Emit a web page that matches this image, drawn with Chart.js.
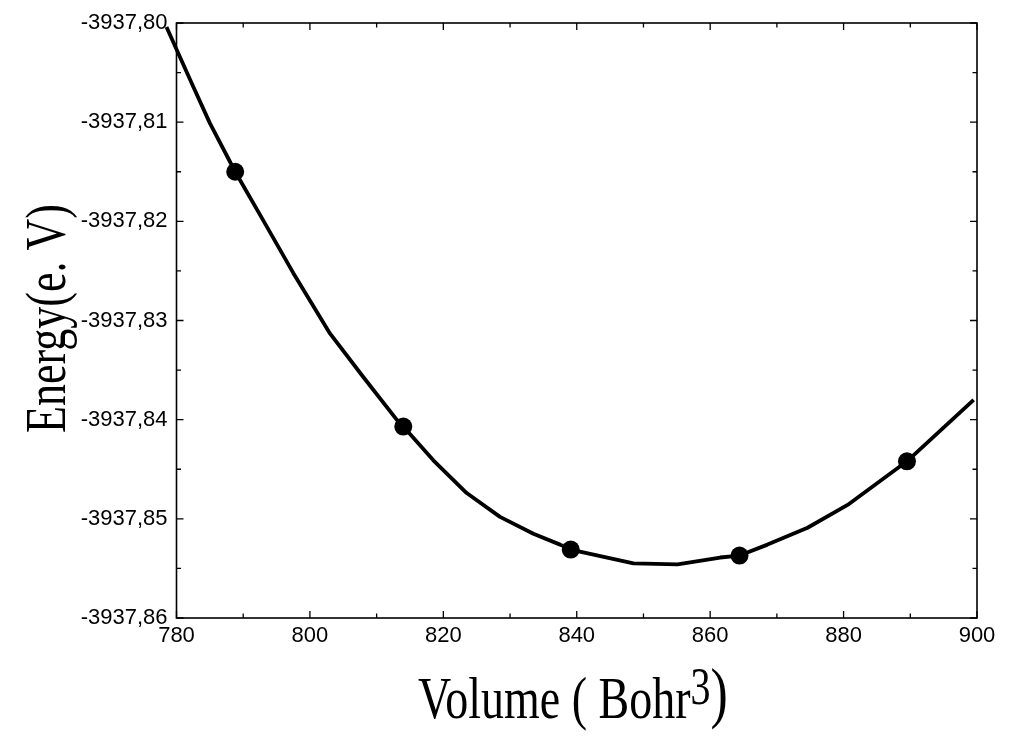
<!DOCTYPE html>
<html>
<head>
<meta charset="utf-8">
<script src="https://cdn.jsdelivr.net/npm/chart.js@4.4.1/dist/chart.umd.min.js"></script>
<style>
  html, body { margin: 0; padding: 0; background: #fff; }
  #wrap { width: 1010px; height: 756px; }
</style>
</head>
<body>
<div id="wrap"><canvas id="evChart"></canvas></div>
<script>
// tick labels
const xTicks = [780, 800, 820, 840, 860, 880, 900];
const yTicks = [-3937.80, -3937.81, -3937.82, -3937.83, -3937.84, -3937.85, -3937.86];

// computed points (Bohr^3, eV)
const volume = [788.8, 814.0, 839.1, 864.4, 889.5];
const energy = [-3937.8150, -3937.8407, -3937.8531, -3937.8537, -3937.8442];

// fitted curve
const fitVolume = [778.5, 782.5, 785.0, 788.8, 793.0, 797.5, 803.0, 808.0, 813.0, 814.0,
                   818.5, 823.5, 828.5, 833.5, 837.5, 839.1, 848.5, 855.1, 861.5, 864.4,
                   868.6, 874.6, 880.6, 889.5, 899.5];
const fitEnergy = [-3937.8004, -3937.8064, -3937.8101, -3937.8150, -3937.8199, -3937.8252,
                   -3937.8313, -3937.8357, -3937.8400, -3937.8407, -3937.8441, -3937.8474,
                   -3937.8498, -3937.8515, -3937.8526, -3937.8531, -3937.8545, -3937.8546,
                   -3937.8539, -3937.8537, -3937.8526, -3937.8509, -3937.8486, -3937.8442,
                   -3937.8380];

const tickFont = { family: '"Liberation Sans", Arial, sans-serif', size: 22 };

// frame, inward ticks and axis titles
const framePlugin = {
    id: 'frame',
    afterDatasetsDraw(chart) {
        const ctx = chart.ctx;
        const a = chart.chartArea;
        const xs = chart.scales.x, ys = chart.scales.y;
        ctx.save();
        ctx.strokeStyle = '#000';
        ctx.lineWidth = 1.6;
        ctx.strokeRect(a.left, a.top, a.right - a.left, a.bottom - a.top);

        ctx.lineWidth = 1.3;
        ctx.beginPath();
        xTicks.forEach((v, i) => {
            const px = xs.getPixelForValue(v);
            ctx.moveTo(px, a.bottom); ctx.lineTo(px, a.bottom - 7);
            ctx.moveTo(px, a.top); ctx.lineTo(px, a.top + 7);
            if (i < xTicks.length - 1) {
                const m = xs.getPixelForValue((v + xTicks[i + 1]) / 2);
                ctx.moveTo(m, a.bottom); ctx.lineTo(m, a.bottom - 4.5);
                ctx.moveTo(m, a.top); ctx.lineTo(m, a.top + 4.5);
            }
        });
        yTicks.forEach((v, i) => {
            const py = ys.getPixelForValue(v);
            ctx.moveTo(a.left, py); ctx.lineTo(a.left + 7, py);
            ctx.moveTo(a.right, py); ctx.lineTo(a.right - 7, py);
            if (i < yTicks.length - 1) {
                const m = ys.getPixelForValue((v + yTicks[i + 1]) / 2);
                ctx.moveTo(a.left, m); ctx.lineTo(a.left + 4.5, m);
                ctx.moveTo(a.right, m); ctx.lineTo(a.right - 4.5, m);
            }
        });
        ctx.stroke();
        ctx.restore();
    },
    afterDraw(chart) {
        const ctx = chart.ctx;
        const serif = '"Liberation Serif", "Times New Roman", serif';
        ctx.save();
        ctx.fillStyle = '#000';
        ctx.textBaseline = 'alphabetic';
        ctx.textAlign = 'left';

        // x title
        ctx.save();
        ctx.translate(418, 718);
        ctx.scale(1, 1.3);
        ctx.font = '46px ' + serif;
        const base = 'Volume ( Bohr';
        ctx.fillText(base, 0, 0);
        let w = ctx.measureText(base).width;
        ctx.font = '40px ' + serif;
        ctx.fillText('3', w, -14 / 1.3);
        w += ctx.measureText('3').width;
        ctx.font = '52px ' + serif;
        ctx.fillText(')', w, -3 / 1.3);
        ctx.restore();

        // y title
        ctx.save();
        ctx.translate(65, 433);
        ctx.rotate(-Math.PI / 2);
        ctx.scale(1, 1.3);
        ctx.font = '44px ' + serif;
        ctx.fillText('Energy(e. V)', 0, 0);
        ctx.restore();

        ctx.restore();
    }
};

new Chart(document.getElementById('evChart'), {
    type: 'scatter',
    data: {
        datasets: [
            {
                label: 'fit',
                data: fitVolume.map((v, i) => ({ x: v, y: fitEnergy[i] })),
                showLine: true,
                borderColor: '#000',
                borderWidth: 3.8,
                borderJoinStyle: 'round',
                pointRadius: 0,
                tension: 0,
                clip: false
            },
            {
                label: 'points',
                data: volume.map((v, i) => ({ x: v, y: energy[i] })),
                pointRadius: 9,
                pointBackgroundColor: '#000',
                pointBorderColor: '#000',
                pointBorderWidth: 0
            }
        ]
    },
    options: {
        responsive: true,
        maintainAspectRatio: false,
        animation: false,
        layout: { padding: { top: 23, right: 33, left: 0, bottom: 0 } },
        plugins: {
            legend: { display: false },
            tooltip: { enabled: false }
        },
        scales: {
            x: {
                type: 'linear',
                min: 780,
                max: 900,
                afterBuildTicks: s => { s.ticks = xTicks.map(v => ({ value: v })); },
                afterFit: s => { s.height = 138; },
                grid: { display: false, drawTicks: false },
                border: { display: false },
                ticks: {
                    color: '#000',
                    font: tickFont,
                    padding: 5,
                    maxRotation: 0,
                    callback: v => String(v)
                }
            },
            y: {
                type: 'linear',
                min: -3937.86,
                max: -3937.80,
                afterBuildTicks: s => { s.ticks = yTicks.map(v => ({ value: v })); },
                afterFit: s => { s.width = 176.5; },
                grid: { display: false, drawTicks: false },
                border: { display: false },
                ticks: {
                    color: '#000',
                    font: tickFont,
                    padding: 9,
                    callback: v => v.toFixed(2).replace('.', ',')
                }
            }
        }
    },
    plugins: [framePlugin]
});
</script>
</body>
</html>
